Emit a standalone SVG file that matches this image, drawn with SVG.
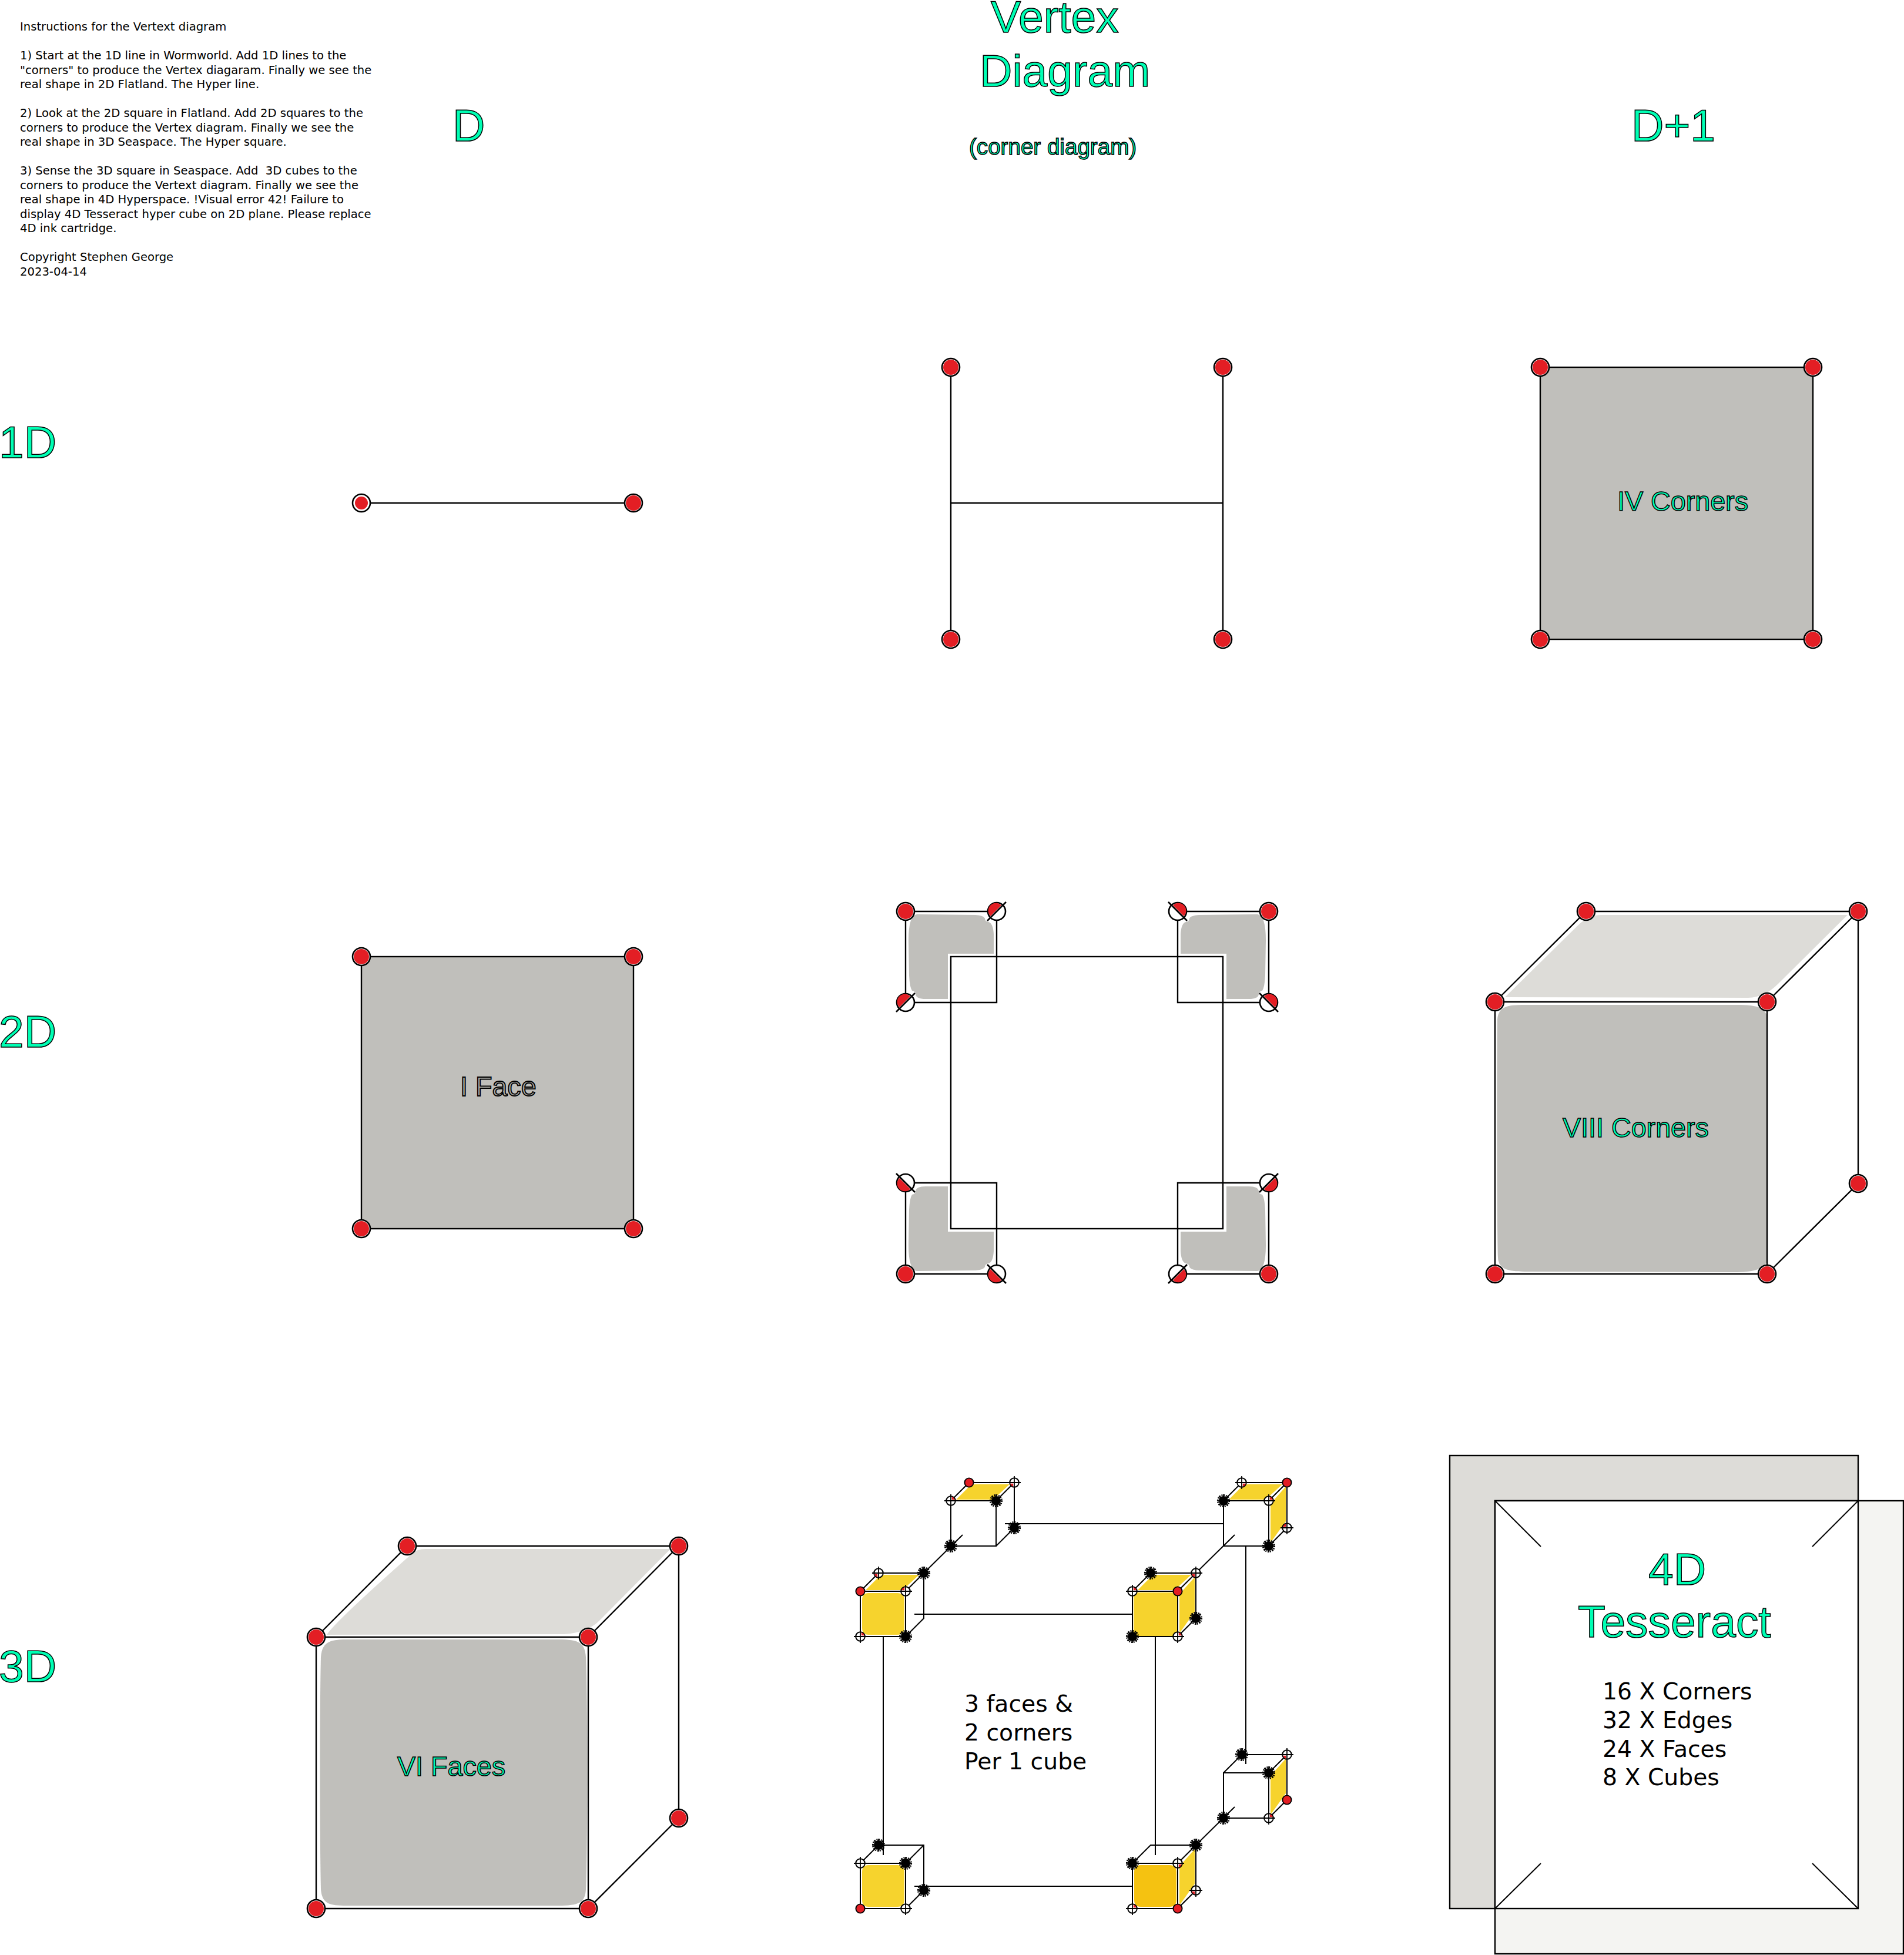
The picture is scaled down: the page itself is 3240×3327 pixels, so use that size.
<svg xmlns="http://www.w3.org/2000/svg" xmlns:xlink="http://www.w3.org/1999/xlink" width="3240" height="3327" viewBox="0 0 3240 3327">
<style>
text{font-family:"Liberation Sans",Arial,sans-serif}
.lab{fill:#00ffb4;stroke:#000;stroke-width:1.5}
.big{font-size:76.8px}
.mid{font-size:46.67px}
.sm{font-size:38.6px}
.dj{font-family:"DejaVu Sans",sans-serif;fill:#000}
.ins{font-size:19.6px}
.lst{font-size:39.3px}
.ln{fill:none;stroke:#000;stroke-width:2.4}
.thin{fill:none;stroke:#000;stroke-width:2}
.grey{fill:#c0bfbb}
.lite{fill:#dddcd8}
.yel{fill:#f6d32d}
.dark{fill:#f5c211}
</style>
<defs>
<g id="n"><circle r="15" fill="#fff" stroke="#000" stroke-width="2.6"/><circle r="13" fill="#e31e24"/></g>
<g id="n0"><circle r="15" fill="#fff" stroke="#000" stroke-width="2.6"/><circle r="11" fill="#e31e24"/></g>
<g id="h"><circle r="15" fill="#fff" stroke="#000" stroke-width="2.6"/><path d="M8,-10.5A13 13 0 0 0 -10.5,8Z" fill="#e31e24"/><path d="M16,-16L-16,16" stroke="#000" stroke-width="2.6"/></g>
<g id="r"><circle r="7.6" fill="#e31e24" stroke="#000" stroke-width="1.9"/></g>
<g id="x"><circle r="7.8" fill="#fff" stroke="#000" stroke-width="2"/><path d="M0,-11V11M-11,0H11" stroke="#000" stroke-width="1.8"/></g>
<path id="q" d="M1.8,-1.8V-6.8A7 7 0 0 1 6.8,-1.8Z" fill="#e31e24"/>
<g id="s"><circle r="8" fill="#000"/><circle r="9.6" fill="none" stroke="#000" stroke-width="3" stroke-dasharray="1.9 1.87"/><path d="M0,-11V11M-11,0H11M-7.8,-7.8L7.8,7.8M-7.8,7.8L7.8,-7.8" stroke="#000" stroke-width="1.7"/></g>
<path id="ce" class="thin" d="M0,0H77V77H0ZM0,0L31,-31H108V46L77,77M77,0L108,-31"/>
<path id="ff" d="M14,3H63Q75,3 75,15V62Q75,74 63,74H14Q3,74 3,62V15Q3,3 14,3Z"/>
<path id="ft" d="M9,-2L33,-26Q36,-28 42,-28H100L74,-4Q72,-2 66,-2Z"/>
<path id="fr" d="M80,5L106,-24V35L81,70Q80,72 80,62Z"/>
<g id="corner">
<path class="grey" d="M1560,1556L1660,1557Q1674,1558 1676,1563Q1676,1568 1682,1569Q1690,1571 1691,1590L1691,1623H1613V1700H1575Q1559,1700 1558,1692Q1558,1687 1552,1686Q1548,1680 1547,1660L1546,1600Q1546,1558 1560,1556Z"/>
<path class="ln" d="M1541,1551H1696V1706H1541Z"/>
<use xlink:href="#n" x="1541" y="1551"/>
<use xlink:href="#h" x="1696" y="1551"/>
<use xlink:href="#h" x="1541" y="1706"/>
</g>
</defs>

<g id="instructions" class="dj ins">
<text class="dj ins" x="34" y="52">Instructions for the Vertext diagram</text>
<text class="dj ins" x="34" y="101">1) Start at the 1D line in Wormworld. Add 1D lines to the</text>
<text class="dj ins" x="34" y="125.5">"corners" to produce the Vertex diagaram. Finally we see the</text>
<text class="dj ins" x="34" y="150">real shape in 2D Flatland. The Hyper line.</text>
<text class="dj ins" x="34" y="199">2) Look at the 2D square in Flatland. Add 2D squares to the</text>
<text class="dj ins" x="34" y="223.5">corners to produce the Vertex diagram. Finally we see the</text>
<text class="dj ins" x="34" y="248">real shape in 3D Seaspace. The Hyper square.</text>
<text class="dj ins" x="34" y="297" xml:space="preserve">3) Sense the 3D square in Seaspace. Add  3D cubes to the</text>
<text class="dj ins" x="34" y="321.5">corners to produce the Vertext diagram. Finally we see the</text>
<text class="dj ins" x="34" y="346">real shape in 4D Hyperspace. !Visual error 42! Failure to</text>
<text class="dj ins" x="34" y="370.5">display 4D Tesseract hyper cube on 2D plane. Please replace</text>
<text class="dj ins" x="34" y="395">4D ink cartridge.</text>
<text class="dj ins" x="34" y="444">Copyright Stephen George</text>
<text class="dj ins" x="34" y="468.5">2023-04-14</text>
</g>

<g id="headings">
<text class="lab big" x="1686" y="55">Vertex</text>
<text class="lab big" x="1667" y="147">Diagram</text>
<text class="lab sm" x="1649" y="263">(corner diagram)</text>
<text class="lab big" x="770" y="240">D</text>
<text class="lab big" x="2776" y="240">D+1</text>
<text class="lab big" x="-2" y="779">1D</text>
<text class="lab big" x="-2" y="1782">2D</text>
<text class="lab big" x="-2" y="2862">3D</text>
</g>

<g id="connectors">
<path class="ln" d="M615,856H1078"/>
<path class="ln" d="M1618,625V1088M2081,625V1088M1618,856H2081"/>
<path class="thin" d="M1572,2677L1638,2612M2035,2677L2101,2612M2035,3140L2101,3075"/>
<path class="thin" d="M1556,2747H1927M1710,2593H2082M1556,3210H1927"/>
<path class="thin" d="M1503,2785V3157M1966,2785V3157M2120,2631V3002"/>
</g>

<g id="line-1d">
<use xlink:href="#n0" x="615" y="856"/><use xlink:href="#n" x="1078" y="856"/>
</g>
<g id="vertex-1d">
<use xlink:href="#n" x="1618" y="625"/><use xlink:href="#n" x="2081" y="625"/>
<use xlink:href="#n" x="1618" y="1088"/><use xlink:href="#n" x="2081" y="1088"/>
</g>
<g id="square-1d">
<rect class="grey" x="2621" y="625" width="464" height="463"/>
<rect class="ln" x="2621" y="625" width="464" height="463"/>
<use xlink:href="#n" x="2621" y="625"/><use xlink:href="#n" x="3085" y="625"/>
<use xlink:href="#n" x="2621" y="1088"/><use xlink:href="#n" x="3085" y="1088"/>
<text class="lab mid" x="2752" y="869">IV Corners</text>
</g>

<g id="square-2d">
<rect class="grey" x="615" y="1628" width="463" height="463"/>
<rect class="ln" x="615" y="1628" width="463" height="463"/>
<use xlink:href="#n" x="615" y="1628"/><use xlink:href="#n" x="1078" y="1628"/>
<use xlink:href="#n" x="615" y="2091"/><use xlink:href="#n" x="1078" y="2091"/>
<text class="mid" x="783" y="1865" fill="#a9a8a4" stroke="#000" stroke-width="1.8">I Face</text>
</g>

<g id="vertex-2d">
<use xlink:href="#corner"/>
<use xlink:href="#corner" transform="matrix(-1 0 0 1 3700 0)"/>
<use xlink:href="#corner" transform="matrix(1 0 0 -1 0 3719)"/>
<use xlink:href="#corner" transform="matrix(-1 0 0 -1 3700 3719)"/>
<rect class="ln" x="1618" y="1628" width="463" height="463"/>
</g>

<g id="cube-2d">
<path class="lite" d="M2561,1697L2685,1575Q2703,1557 2725,1557L3144,1557L3025,1675Q3003,1697 2975,1698Z"/>
<path class="grey" d="M2600,1710C2570,1710 2550,1710 2548,1735C2547,1800 2547,2080 2549,2140C2550,2162 2570,2164 2600,2164L2950,2165C2985,2165 3000,2160 3007,2147V1728C3000,1712 2985,1710 2950,1710Z"/>
<path class="ln" d="M2544,1705H3007V2168H2544ZM2544,1705L2699,1551H3162V2014L3007,2168M3007,1705L3162,1551"/>
<use xlink:href="#n" x="2544" y="1705"/><use xlink:href="#n" x="3007" y="1705"/>
<use xlink:href="#n" x="2544" y="2168"/><use xlink:href="#n" x="3007" y="2168"/>
<use xlink:href="#n" x="2699" y="1551"/><use xlink:href="#n" x="3162" y="1551"/>
<use xlink:href="#n" x="3162" y="2014"/>
<text class="lab mid" x="2659" y="1935">VIII Corners</text>
</g>

<g id="cube-3d">
<path class="lite" d="M556,2782Q570,2760 700,2645Q708,2636 725,2636L1141,2636L1020,2758Q1000,2778 960,2781Z"/>
<path class="grey" d="M590,2790C560,2790 548,2795 546,2820C544,2900 544,3130 546,3215C548,3240 560,3243 590,3243L950,3243C985,3243 996,3238 997,3215C1000,3130 1000,2900 997,2820C995,2795 985,2790 950,2790Z"/>
<path class="ln" d="M538,2786H1001V3248H538ZM538,2786L693,2631H1155V3094L1001,3248M1001,2786L1155,2631"/>
<use xlink:href="#n" x="538" y="2786"/><use xlink:href="#n" x="1001" y="2786"/>
<use xlink:href="#n" x="538" y="3248"/><use xlink:href="#n" x="1001" y="3248"/>
<use xlink:href="#n" x="693" y="2631"/><use xlink:href="#n" x="1155" y="2631"/>
<use xlink:href="#n" x="1155" y="3094"/>
<text class="lab mid" x="676" y="3022">VI Faces</text>
</g>

<g id="cube-a" transform="translate(1464,2708)">
<use xlink:href="#ff" class="yel"/><use xlink:href="#ft" class="yel"/><use xlink:href="#ce"/>
<use xlink:href="#r"/>
<use xlink:href="#x" x="77"/><use xlink:href="#q" transform="translate(77,0) rotate(270)"/>
<use xlink:href="#x" y="77"/><use xlink:href="#q" transform="translate(0,77)"/>
<use xlink:href="#s" x="77" y="77"/>
<use xlink:href="#x" x="31" y="-31"/><use xlink:href="#q" transform="translate(31,-31) rotate(180)"/>
<use xlink:href="#s" x="108" y="-31"/>
</g>
<g id="cube-b" transform="translate(1618,2554)">
<use xlink:href="#ft" class="yel"/><use xlink:href="#ce"/>
<use xlink:href="#x"/><use xlink:href="#q"/>
<use xlink:href="#s" x="77"/>
<use xlink:href="#s" y="77"/>
<use xlink:href="#r" x="31" y="-31"/>
<use xlink:href="#x" x="108" y="-31"/><use xlink:href="#q" transform="translate(108,-31) rotate(180)"/>
<use xlink:href="#s" x="108" y="46"/>
</g>
<g id="cube-c" transform="translate(2082,2554)">
<use xlink:href="#ft" class="yel"/><use xlink:href="#fr" class="yel"/><use xlink:href="#ce"/>
<use xlink:href="#s"/>
<use xlink:href="#x" x="77"/><use xlink:href="#q" transform="translate(77,0)"/>
<use xlink:href="#s" x="77" y="77"/>
<use xlink:href="#x" x="31" y="-31"/><use xlink:href="#q" transform="translate(31,-31) rotate(90)"/>
<use xlink:href="#r" x="108" y="-31"/>
<use xlink:href="#x" x="108" y="46"/><use xlink:href="#q" transform="translate(108,46) rotate(270)"/>
</g>
<g id="cube-d" transform="translate(1927,2708)">
<use xlink:href="#ft" class="yel"/><use xlink:href="#fr" class="yel"/>
<rect class="yel" x="2" y="2" width="74" height="74" rx="3"/>
<use xlink:href="#ce"/>
<use xlink:href="#x"/><use xlink:href="#q"/>
<use xlink:href="#r" x="77"/>
<use xlink:href="#s" y="77"/>
<use xlink:href="#x" x="77" y="77"/><use xlink:href="#q" transform="translate(77,77)"/>
<use xlink:href="#s" x="31" y="-31"/>
<use xlink:href="#x" x="108" y="-31"/><use xlink:href="#q" transform="translate(108,-31) rotate(180)"/>
<use xlink:href="#s" x="108" y="46"/>
</g>
<g id="cube-e" transform="translate(1464,3171)">
<use xlink:href="#ff" class="yel"/><use xlink:href="#ce"/>
<use xlink:href="#x"/>
<use xlink:href="#s" x="77"/>
<use xlink:href="#r" y="77"/>
<use xlink:href="#x" x="77" y="77"/>
<use xlink:href="#s" x="31" y="-31"/>
<use xlink:href="#s" x="108" y="46"/>
</g>
<g id="cube-f" transform="translate(1927,3171)">
<use xlink:href="#ff" class="dark"/><use xlink:href="#fr" class="yel"/><use xlink:href="#ce"/>
<use xlink:href="#s"/>
<use xlink:href="#x" x="77"/><use xlink:href="#q" transform="translate(77,0) rotate(90)"/>
<use xlink:href="#x" y="77"/><use xlink:href="#q" transform="translate(0,77)"/>
<use xlink:href="#r" x="77" y="77"/>
<use xlink:href="#s" x="108" y="-31"/>
<use xlink:href="#x" x="108" y="46"/><use xlink:href="#q" transform="translate(108,46) rotate(180)"/>
</g>
<g id="cube-g" transform="translate(2082,3017)">
<use xlink:href="#fr" class="yel"/><use xlink:href="#ce"/>
<use xlink:href="#s" x="77"/>
<use xlink:href="#s" y="77"/>
<use xlink:href="#x" x="77" y="77"/><use xlink:href="#q" transform="translate(77,77)"/>
<use xlink:href="#s" x="31" y="-31"/>
<use xlink:href="#x" x="108" y="-31"/><use xlink:href="#q" transform="translate(108,-31) rotate(180)"/>
<use xlink:href="#r" x="108" y="46"/>
</g>
<g id="vertex-3d-label">
<text class="dj lst" x="1641" y="2913">3 faces &amp;</text>
<text class="dj lst" x="1641" y="2962">2 corners</text>
<text class="dj lst" x="1641" y="3011">Per 1 cube</text>
</g>

<g id="tesseract">
<rect class="lite" x="2467" y="2477" width="695" height="771"/>
<rect fill="none" stroke="#000" stroke-width="2.4" x="2467" y="2477" width="695" height="771"/>
<rect fill="#f4f4f2" stroke="#000" stroke-width="2.4" x="2544" y="2554" width="695" height="771"/>
<rect fill="#fff" stroke="#000" stroke-width="2.4" x="2544" y="2554" width="618" height="694"/>
<path class="thin" d="M2544,2554L2622,2632M3162,2554L3084,2632M2544,3248L2622,3171M3162,3248L3084,3171"/>
<text class="lab big" x="2805" y="2697">4D</text>
<text class="lab big" x="2685" y="2786">Tesseract</text>
<text class="dj lst" x="2727" y="2892">16 X Corners</text>
<text class="dj lst" x="2727" y="2941">32 X Edges</text>
<text class="dj lst" x="2727" y="2990">24 X Faces</text>
<text class="dj lst" x="2727" y="3038">8 X Cubes</text>
</g>
</svg>
